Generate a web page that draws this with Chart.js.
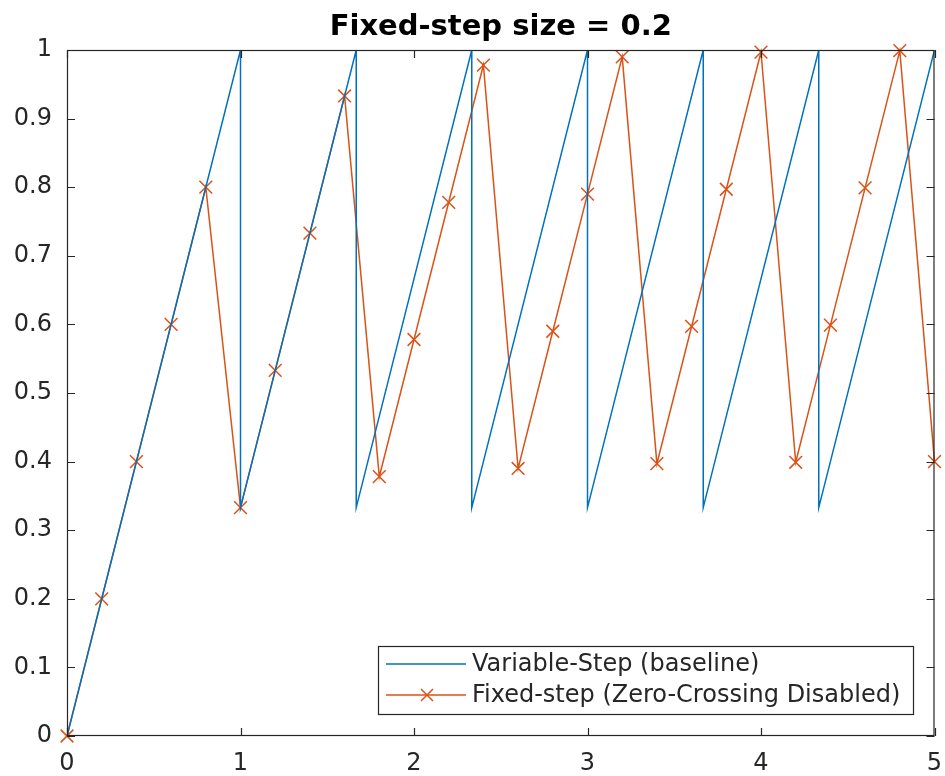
<!DOCTYPE html>
<html>
<head>
<meta charset="utf-8">
<script src="https://cdn.jsdelivr.net/npm/chart.js@4/dist/chart.umd.min.js"></script>
<style>
  html, body { margin: 0; padding: 0; background: #fff; }
  #wrap { width: 945px; height: 776px; }
</style>
</head>
<body>
<div id="wrap"><canvas id="chart" width="945" height="776"></canvas></div>
<script>
const TITLE = 'Fixed-step size = 0.2';
const VAR_LABEL = 'Variable-Step (baseline)';
const FIX_LABEL = 'Fixed-step (Zero-Crossing Disabled)';

// variable-step sawtooth (resets at the zero crossings)
const VAR_X = [0, 1, 1, 1.667, 1.667, 2.333, 2.333, 3, 3, 3.667, 3.667, 4.333, 4.333, 5];
const VAR_Y = [0, 1, 0.333, 1, 0.333, 1, 0.333, 1, 0.333, 1, 0.333, 1, 0.333, 1];

// fixed-step samples every 0.2
const FIX_X = [0, 0.2, 0.4, 0.6, 0.8, 1, 1.2, 1.4, 1.6, 1.8, 2, 2.2, 2.4, 2.6, 2.8, 3, 3.2, 3.4, 3.6, 3.8, 4, 4.2, 4.4, 4.6, 4.8, 5];
const FIX_Y = [0, 0.2, 0.4, 0.6, 0.8, 0.333, 0.533, 0.733, 0.933, 0.378, 0.578, 0.778, 0.978, 0.39, 0.59, 0.79, 0.99, 0.397, 0.597, 0.797, 0.997, 0.399, 0.599, 0.799, 0.999, 0.4];

const X_TICKS = [0, 1, 2, 3, 4, 5];
const Y_TICKS = [0, 0.1, 0.2, 0.3, 0.4, 0.5, 0.6, 0.7, 0.8, 0.9, 1];

const BLUE = '#0072BD';
const ORANGE = '#D95319';
const AXIS = '#262626';
const FONT = 'DejaVu Sans, sans-serif';

const toPoints = (xs, ys) => xs.map((x, i) => ({ x, y: ys[i] }));

// box, inward ticks on all sides, title and legend
const matlabAxes = {
  id: 'matlabAxes',
  afterDraw(chart) {
    const { ctx, chartArea: a, scales } = chart;
    const tick = 8;
    ctx.save();
    ctx.strokeStyle = AXIS;
    ctx.lineWidth = 1.2;
    ctx.strokeRect(a.left + 0.5, a.top + 0.5, a.right - a.left - 1, a.bottom - a.top - 1);
    ctx.beginPath();
    X_TICKS.forEach((v) => {
      const px = Math.round(scales.x.getPixelForValue(v)) + 0.5;
      ctx.moveTo(px, a.bottom); ctx.lineTo(px, a.bottom - tick);
      ctx.moveTo(px, a.top); ctx.lineTo(px, a.top + tick);
    });
    Y_TICKS.forEach((v) => {
      const py = Math.round(scales.y.getPixelForValue(v)) + 0.5;
      ctx.moveTo(a.left, py); ctx.lineTo(a.left + tick, py);
      ctx.moveTo(a.right, py); ctx.lineTo(a.right - tick, py);
    });
    ctx.stroke();

    // title
    ctx.fillStyle = '#000';
    ctx.font = 'bold 29px ' + FONT;
    ctx.textAlign = 'center';
    ctx.textBaseline = 'alphabetic';
    ctx.fillText(TITLE, (a.left + a.right) / 2, 35);

    // legend
    const box = { x: 378, y: 646, w: 535, h: 68 };
    ctx.fillStyle = '#fff';
    ctx.fillRect(box.x, box.y, box.w, box.h);
    ctx.strokeStyle = AXIS;
    ctx.lineWidth = 1.2;
    ctx.strokeRect(box.x + 0.5, box.y + 0.5, box.w, box.h);
    const rows = [
      { label: VAR_LABEL, color: BLUE, marker: false, y: box.y + 18 },
      { label: FIX_LABEL, color: ORANGE, marker: true, y: box.y + 49 },
    ];
    ctx.font = '24px ' + FONT;
    ctx.textAlign = 'left';
    ctx.textBaseline = 'middle';
    rows.forEach((r) => {
      ctx.strokeStyle = r.color;
      ctx.lineWidth = 1.5;
      ctx.beginPath();
      ctx.moveTo(box.x + 8, r.y);
      ctx.lineTo(box.x + 88, r.y);
      ctx.stroke();
      if (r.marker) {
        const cx = box.x + 49, s = 6;
        ctx.beginPath();
        ctx.moveTo(cx - s, r.y - s); ctx.lineTo(cx + s, r.y + s);
        ctx.moveTo(cx + s, r.y - s); ctx.lineTo(cx - s, r.y + s);
        ctx.stroke();
      }
      ctx.fillStyle = AXIS;
      ctx.fillText(r.label, box.x + 94, r.y + 1);
    });
    ctx.restore();
  },
};

new Chart(document.getElementById('chart'), {
  type: 'scatter',
  data: {
    datasets: [
      {
        label: VAR_LABEL,
        data: toPoints(VAR_X, VAR_Y),
        showLine: true,
        borderColor: BLUE,
        borderWidth: 1.5,
        pointRadius: 0,
        tension: 0,
      },
      {
        label: FIX_LABEL,
        data: toPoints(FIX_X, FIX_Y),
        showLine: true,
        borderColor: ORANGE,
        backgroundColor: ORANGE,
        borderWidth: 1.5,
        pointStyle: 'crossRot',
        pointRadius: 9,
        pointBorderWidth: 1.5,
        tension: 0,
        clip: false,
      },
    ],
  },
  options: {
    responsive: false,
    animation: false,
    layout: { padding: { left: 0, top: 50, right: 10, bottom: 0 } },
    plugins: { legend: { display: false }, title: { display: false }, tooltip: { enabled: false } },
    scales: {
      x: {
        type: 'linear',
        min: 0,
        max: 5,
        afterBuildTicks: (s) => { s.ticks = X_TICKS.map((v) => ({ value: v })); },
        afterFit: (s) => { s.height = 40; s.paddingLeft = 0; s.paddingRight = 0; },
        grid: { display: false, drawTicks: false },
        border: { display: false },
        ticks: { color: AXIS, font: { family: FONT, size: 24 }, padding: 13, maxRotation: 0, callback: (v) => String(v) },
      },
      y: {
        type: 'linear',
        min: 0,
        max: 1,
        afterBuildTicks: (s) => { s.ticks = Y_TICKS.map((v) => ({ value: v })); },
        afterFit: (s) => { s.width = 67; s.paddingTop = 0; s.paddingBottom = 0; },
        grid: { display: false, drawTicks: false },
        border: { display: false },
        ticks: { color: AXIS, font: { family: FONT, size: 24 }, padding: 15, callback: (v) => String(v) },
      },
    },
  },
  plugins: [matlabAxes],
});
</script>
</body>
</html>
